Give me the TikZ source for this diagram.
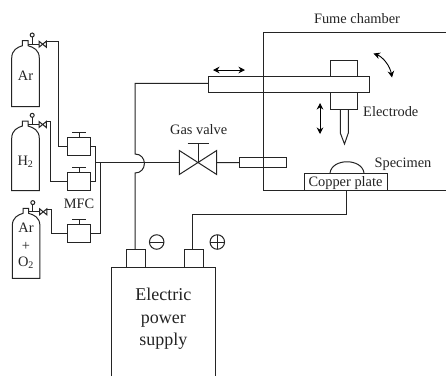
\documentclass[tikz,border=0pt]{standalone}
\usepackage{fontspec}
\setmainfont{Liberation Serif}
\usetikzlibrary{arrows.meta}
\definecolor{ink}{gray}{0.14}
\tikzset{
  wire/.style={draw=ink,line width=1pt},
  boxn/.style={draw=ink,line width=1pt,inner sep=0pt,outer sep=0pt,rectangle},
  lab/.style={inner sep=0pt,anchor=base,text=ink,font=\fontsize{14.4}{16}\selectfont},
  big/.style={inner sep=0pt,anchor=base,text=ink,font=\fontsize{18}{20}\selectfont},
  dbl/.style={draw=black,line width=0.9pt,{Stealth[length=6.5pt,width=6.5pt]}-{Stealth[length=6.5pt,width=6.5pt]}},
  sign/.style={circle,draw=ink,line width=1pt,minimum size=14.5pt,inner sep=0pt,outer sep=0pt},
  pics/cyl/.style={code={
    \draw[wire] (0,#1) -- (0,17.5) .. controls (0,9) and (6,6.5) .. (10.7,5) -- (10.7,0) -- (16.3,0) -- (16.3,5)
      .. controls (21.6,6.5) and (27.6,9) .. (27.6,17.5) -- (27.6,#1) -- cycle;
    \draw[wire] (16.3,3.5) -- (27.3,3.5);
    \draw[wire] (20.5,3.5) -- (20.5,-3.7);
    \draw[wire] (20.5,-5.7) circle[radius=2];
    \draw[wire] (27.3,0.5) -- (34.6,6.5) -- (34.6,0.5) -- (27.3,6.5) -- cycle;
    \coordinate (-out) at (34.6,0.7);
  }},
  pics/mfcstem/.style={code={
    \draw[wire] (0,0) -- (0,-5);
    \draw[wire] (-7,-5) -- (7,-5);
  }}
}
\begin{document}
\begin{tikzpicture}[x=1pt,y=-1pt]
\useasboundingbox (0,0) rectangle (446,376);
\fill[white] (0,0) rectangle (446,376);

% cylinders
\pic (ar) at (11.7,40.7) {cyl=66};
\pic (hy) at (11.7,121) {cyl=69.7};
\pic (mix) at (12.3,208.3) {cyl=70};
\node[lab] (tar) at (25.5,80.3) {Ar};
\node[lab] (thy) at (25.5,165) {H\textsubscript{2}};
\node[lab] (tm1) at (26,232.7) {Ar};
\node[lab] (tm2) at (26,250) {+};
\node[lab] (tm3) at (26,266.7) {O\textsubscript{2}};

% MFCs
\node[boxn,minimum width=23.3pt,minimum height=18.4pt] (m1) at (79.3,146.5) {};
\node[boxn,minimum width=23.3pt,minimum height=18pt] (m2) at (79.3,181.7) {};
\node[boxn,minimum width=23.3pt,minimum height=17.7pt] (m3) at (79,233.8) {};
\pic at (m1.north) {mfcstem};
\pic at (m2.north) {mfcstem};
\pic at (m3.north) {mfcstem};
\node[lab] (tmfc) at (79,208.3) {MFC};

\coordinate (c1) at (58.7,146.5);
\coordinate (c2) at (50,181.7);
\coordinate (c3) at (51,233.8);
\draw[wire] (ar-out) -| (c1) -- (m1.west);
\draw[wire] (hy-out) -| (c2) -- (m2.west);
\draw[wire] (mix-out) -| (c3) -- (m3.west);

\coordinate (jr) at (95.3,162.7);
\coordinate (jm) at (100,162.7);
\draw[wire] (m1.east) -| (jr) |- (m2.east);
\draw[wire] (m3.east) -| (jm);

% gas valve
\coordinate (vc) at (198,162.7);
\draw[wire] (179.3,150.5) -- (216.7,174.5) -- (216.7,150.5) -- (179.3,174.5) -- cycle;
\draw[wire] (vc) -- (198,143.7);
\draw[wire] (187.7,143.7) -- (208.7,143.7);
\coordinate (vl) at (179.3,162.7);
\coordinate (vr) at (216.7,162.7);
\node[lab] (tgas) at (198.7,134) {Gas valve};
\draw[wire] (jr) -- (vl);

% tube and arm
\node[boxn,minimum width=46.6pt,minimum height=9.6pt] (tube) at (263,162.6) {};
\draw[wire] (vr) -- (tube.west);
\node[boxn,minimum width=161pt,minimum height=16pt] (arm) at (288.5,84.7) {};

% chamber
\coordinate (ca) at (446,32.5);
\coordinate (cb) at (263,32.5);
\coordinate (cc) at (263,190.7);
\coordinate (cd) at (446,190.7);
\draw[wire] (ca) -- (cb) -- (cc) -- (cd);
\node[lab] (tfume) at (357,23.3) {Fume chamber};

% holder and electrode
\node[boxn,minimum width=27pt,minimum height=16.7pt] (hu) at (343.8,68.35) {};
\node[boxn,minimum width=27pt,minimum height=16.3pt] (hl) at (343.8,100.85) {};
\draw[wire] (340.3,109) -- (340.3,133) -- (344.5,144) -- (348.3,133) -- (348.3,109);
\node[lab,anchor=base west] (telec) at (363,116.3) {Electrode};

% arrows
\coordinate (a1) at (213,70); \coordinate (a2) at (245,70);
\draw[dbl] (a1) -- (a2);
\coordinate (a3) at (320,103); \coordinate (a4) at (320,134);
\draw[dbl] (a3) -- (a4);
\coordinate (a5) at (373.5,53.5); \coordinate (a6) at (392,77.5);
\draw[dbl] (a5) .. controls (383,57) and (390,66) .. (a6);

% plate and specimen
\node[boxn,minimum width=83pt,minimum height=17.7pt] (plate) at (345.5,181.85) {};
\node[lab] (tcu) at (345.5,186.7) {Copper plate};
\draw[wire] (330,173) .. controls (332,158) and (362,158) .. (364,173);
\node[lab] (tspec) at (403,167.2) {Specimen};

% power supply
\draw[wire] (111.7,376) -- (111.7,267.3) -- (215.7,267.3) -- (215.7,376);
\node[boxn,minimum width=19pt,minimum height=18.3pt] (tn) at (135.8,258.15) {};
\node[boxn,minimum width=18.6pt,minimum height=18.3pt] (tp) at (194,258.15) {};
\node[big] (t1) at (163.3,300.7) {Electric};
\node[big] (t2) at (163.3,323.3) {power};
\node[big] (t3) at (163.3,345) {supply};
\node[sign] (sm) at (156.7,242) {};
\draw[wire] (sm.west) -- (sm.east);
\node[sign] (sp) at (217.3,242) {};
\draw[wire] (sp.west) -- (sp.east);
\draw[wire] (sp.north) -- (sp.south);

% wires to supply
\coordinate (w1) at (135,83.3);
\coordinate (h1) at (135,154);
\coordinate (h2) at (135,173);
\draw[wire] (arm.west |- w1) -- (w1) -- (h1) .. controls (147.5,154) and (147.5,173) .. (h2) -- (h2 |- tn.north);
\coordinate (w2) at (346.7,214.7);
\coordinate (w3) at (192.7,214.7);
\coordinate (w4) at (346.7,190.7);
\draw[wire] (w4) -- (w2) -- (w3) -- (w3 |- tp.north);
\end{tikzpicture}
\end{document}
